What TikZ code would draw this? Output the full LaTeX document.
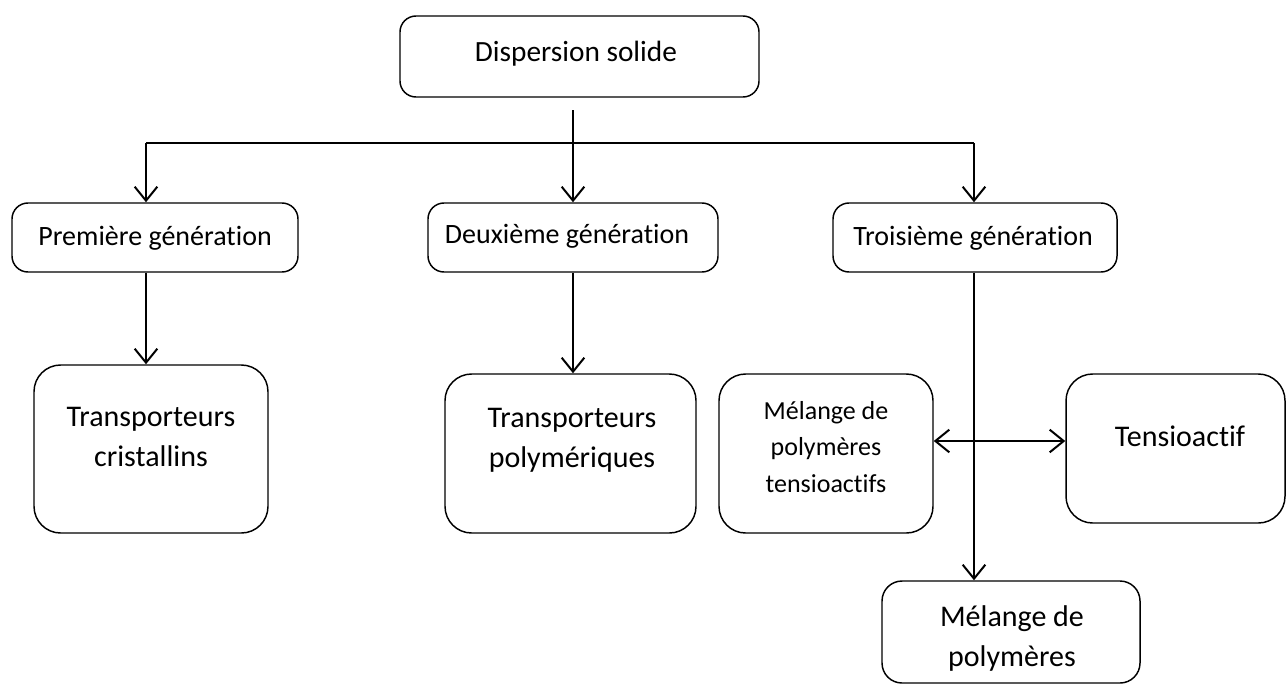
\documentclass[tikz,border=0pt]{standalone}
\usepackage{fontspec}
\setmainfont{Carlito}[Ligatures=NoCommon]
\usetikzlibrary{arrows.meta}
\tikzset{
  box/.style={draw, line width=1.1pt, rounded corners=#1, inner sep=0pt},
  box/.default=12pt,
  txt/.style={align=center, inner sep=0pt, font=\fontsize{22.5}{30}\selectfont},
  dstxt/.style={align=center, inner sep=0pt, font=\fontsize{22}{30}\selectfont},
  gentxt/.style={align=center, inner sep=0pt, font=\fontsize{21}{30}\selectfont},
  smalltxt/.style={align=center, inner sep=0pt, font=\fontsize{19.5}{27.4}\selectfont},
  arr/.style={line width=1.5pt, -{Straight Barb[length=10.5pt,width=17pt,line width=1.5pt]}},
  arrboth/.style={line width=1.5pt, {Straight Barb[length=10.5pt,width=17pt,line width=1.5pt]}-{Straight Barb[length=10.5pt,width=17pt,line width=1.5pt]}},
  plain/.style={line width=1.5pt}
}
\begin{document}
\begin{tikzpicture}[x=0.75pt,y=-0.75pt]
\useasboundingbox (0,0) rectangle (1287,686);
% boxes
\node[box, minimum width=359*0.75pt, minimum height=81*0.75pt] (ds) at (579.5,56.5) {};
\node[dstxt] (dst) at (576,54) {Dispersion solide};
\node[box, minimum width=286*0.75pt, minimum height=69*0.75pt] (g1) at (155,237.5) {};
\node[gentxt] (g1t) at (155,238) {Première génération};
\node[box, minimum width=290*0.75pt, minimum height=69*0.75pt] (g2) at (573,237.5) {};
\node[gentxt] (g2t) at (567,236) {Deuxième génération};
\node[box, minimum width=284*0.75pt, minimum height=69*0.75pt] (g3) at (975,237.5) {};
\node[gentxt] (g3t) at (973,238) {Troisième génération};
\node[box=20pt, minimum width=234*0.75pt, minimum height=168*0.75pt] (tc) at (151,449) {};
\node[txt] (tct) at (151,437) {Transporteurs\\cristallins};
\node[box=20pt, minimum width=251*0.75pt, minimum height=159*0.75pt] (tp) at (570.5,453.5) {};
\node[txt] (tpt) at (572,440) {Transporteurs\\polymériques};
\node[box=20pt, minimum width=214*0.75pt, minimum height=159*0.75pt] (mt) at (826,453.5) {};
\node[smalltxt] (mtt) at (826,447) {Mélange de\\polymères\\tensioactifs};
\node[box=20pt, minimum width=219*0.75pt, minimum height=149*0.75pt] (ta) at (1175.5,448.5) {};
\node[txt] (tat) at (1180,436) {Tensioactif};
\node[box=15pt, minimum width=258*0.75pt, minimum height=102*0.75pt] (mp) at (1011,632) {};
\node[txt] (mpt) at (1012,638) {Mélange de\\polymères};
% connector coordinates
\coordinate (s) at (573,110);
\coordinate (hl) at (146,143);
\coordinate (hr) at (974,143);
\coordinate (dy) at (0,441);
% connectors
\draw[arr] (s) -- (g2.north);
\draw[plain] (hr) -- (hl);
\draw[arr] (hl) -- (hl |- g1.north);
\draw[arr] (hr) -- (hr |- g3.north);
\draw[arr] (g1.south -| hl) -- (tc.north -| hl);
\draw[arr] (g2.south) -- (g2.south |- tp.north);
\draw[arr] (g3.south -| hr) -- (mp.north -| hr);
\draw[arrboth] (mt.east |- dy) -- (ta.west |- dy);
\end{tikzpicture}
\end{document}
